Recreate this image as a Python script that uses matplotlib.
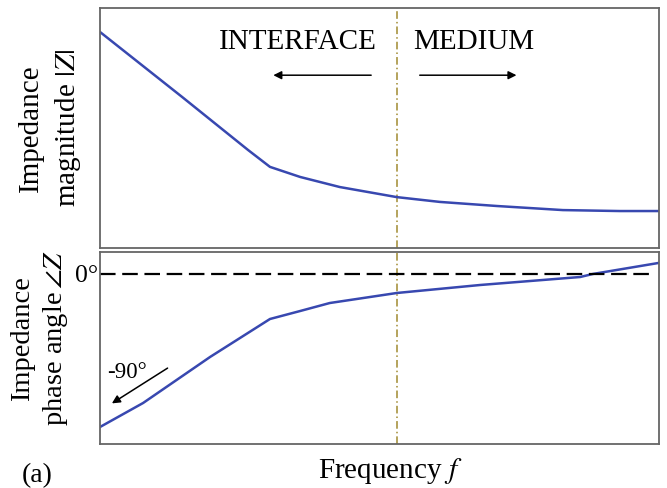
import numpy as np
import matplotlib
matplotlib.use("Agg")
import matplotlib.pyplot as plt

plt.rcParams['font.family'] = ['Liberation Serif', 'DejaVu Serif']
plt.rcParams['mathtext.fontset'] = 'stix'

# frequency (arbitrary units, 0..100)
freq_mag = [0, 14.7, 26.5, 30.4, 35.8, 42.9, 53.1, 60.8, 71.0, 82.8, 93.0, 100]
magnitude = [9.0, 6.29, 4.08, 3.38, 2.96, 2.54, 2.12, 1.92, 1.75, 1.58, 1.54, 1.54]

freq_ph = [0, 7.7, 19.7, 30.4, 35.8, 41.1, 53.1, 68.0, 85.9, 88.2, 100]
phase = [-90, -75.9, -48.8, -26.5, -21.8, -17.1, -11.2, -6.5, -1.8, 0, 6.5]

f_boundary = 53.1
line_col = '#3848b0'
edge_col = '#666666'

fig = plt.figure(figsize=(6.67, 4.88), dpi=100)
ax1 = fig.add_axes([0.15, 0.4918, 0.838, 0.4918])
ax2 = fig.add_axes([0.15, 0.0902, 0.838, 0.3934])

for ax in (ax1, ax2):
    ax.set_xlim(0, 100)
    ax.set_xticks([])
    ax.set_yticks([])
    for s in ax.spines.values():
        s.set_color(edge_col)
        s.set_linewidth(1.3)
    ax.axvline(f_boundary, color='#a08a30', lw=1.1, ls=(0, (5, 2, 1, 2)))

# magnitude
ax1.plot(freq_mag, magnitude, color=line_col, lw=1.8)
ax1.set_ylim(0, 10)
ax1.set_ylabel('Impedance\nmagnitude $|Z|$', fontsize=21, linespacing=1.4)
ax1.yaxis.set_label_coords(-0.031, 0.5)
ax1.text(49.5, 8.6, 'INTERFACE', ha='right', va='center', fontsize=21)
ax1.text(56.0, 8.6, 'MEDIUM', ha='left', va='center', fontsize=21)
ax1.annotate('', xy=(30.5, 7.2), xytext=(49, 7.2),
             arrowprops=dict(arrowstyle='-|>', color='black', lw=1.1, mutation_scale=12))
ax1.annotate('', xy=(75, 7.2), xytext=(56.7, 7.2),
             arrowprops=dict(arrowstyle='-|>', color='black', lw=1.1, mutation_scale=12))

# phase
ax2.plot(freq_ph, phase, color=line_col, lw=1.8)
ax2.axhline(0, xmax=0.99, color='black', lw=1.6, ls=(0, (7, 3)))
ax2.set_ylim(-100, 12.9)
ax2.set_yticks([0])
ax2.set_yticklabels(['0°'], fontsize=18.5)
ax2.tick_params(axis='y', length=0, pad=1.5)
ax2.set_ylabel('Impedance\nphase angle$\\,\\angle Z$', fontsize=20.5, linespacing=1.3)
ax2.yaxis.set_label_coords(-0.053, 0.55)
ax2.text(1.3, -58, '-90°', ha='left', va='center', fontsize=16.5)
ax2.annotate('', xy=(1.7, -77), xytext=(12.5, -54.5),
             arrowprops=dict(arrowstyle='-|>', color='black', lw=1.1, mutation_scale=12))
ax2.set_xlabel('Frequency $f$', fontsize=21)
ax2.xaxis.set_label_coords(0.52, -0.065)
ax2.xaxis.label.set_va('top')

fig.text(0.033, 0.0, '(a)', fontsize=20, ha='left', va='bottom')

fig.savefig('out.png', dpi=100)
